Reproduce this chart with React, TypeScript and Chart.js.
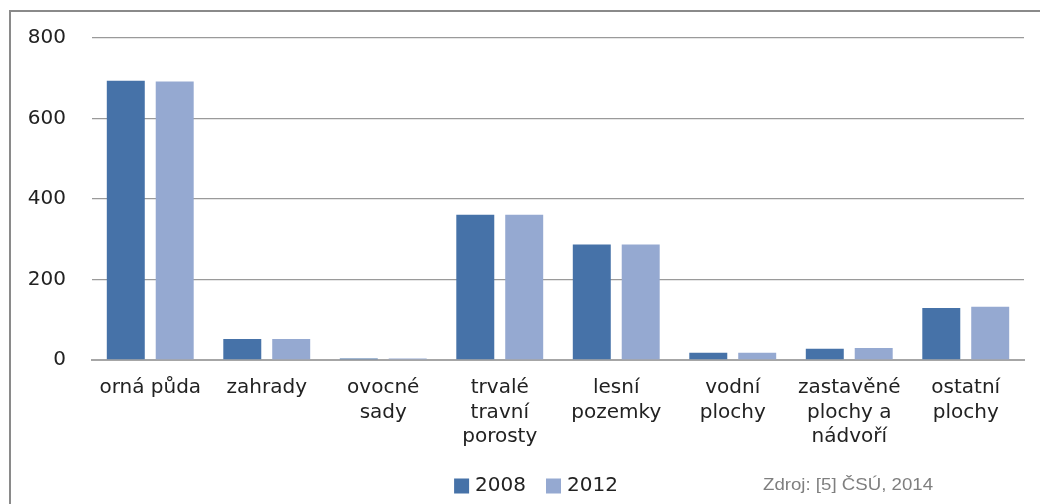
import React, { useEffect, useRef } from "react";
import { Chart, registerables } from "chart.js";

Chart.register(...registerables);

const categories: string[][] = [
  ["orná půda"],
  ["zahrady"],
  ["ovocné", "sady"],
  ["trvalé", "travní", "porosty"],
  ["lesní", "pozemky"],
  ["vodní", "plochy"],
  ["zastavěné", "plochy a", "nádvoří"],
  ["ostatní", "plochy"],
];
const values2008 = [694, 52, 4, 361, 287, 18, 28, 129];
const values2012 = [692, 52, 4, 361, 287, 18, 30, 132];
const seriesLabels = ["2008", "2012"];
const seriesColors = ["#4672a8", "#95a9d1"];
const yTicks = [0, 200, 400, 600, 800];
const sourceText = "Zdroj: [5] ČSÚ, 2014";

const FONT = "'DejaVu Sans', Verdana, sans-serif";

const sourcePlugin = {
  id: "sourceText",
  afterDraw(chart: any) {
    const ctx = chart.ctx as CanvasRenderingContext2D;
    ctx.save();
    ctx.font = "17px 'Liberation Sans Narrow', 'Liberation Sans', sans-serif";
    ctx.fillStyle = "#7f7f7f";
    ctx.textBaseline = "middle";
    ctx.textAlign = "left";
    const w = ctx.measureText(sourceText).width;
    const target = 170;
    ctx.translate(763, 485);
    ctx.scale(target / w, 1);
    ctx.fillText(sourceText, 0, 0);
    ctx.restore();
  },
};

const legendPlugin = {
  id: "customLegend",
  afterDraw(chart: any) {
    const ctx = chart.ctx as CanvasRenderingContext2D;
    ctx.save();
    ctx.font = `20px ${FONT}`;
    ctx.textBaseline = "middle";
    ctx.textAlign = "left";
    const box = 15;
    const gapText = 6;
    const gapItem = 20;
    const items = chart.data.datasets.map((d: any) => ({
      label: d.label,
      color: d.backgroundColor,
      w: ctx.measureText(d.label).width,
    }));
    let total = 0;
    items.forEach((it: any, i: number) => {
      total += box + gapText + it.w + (i < items.length - 1 ? gapItem : 0);
    });
    let x = 536 - total / 2;
    const cy = 486;
    items.forEach((it: any) => {
      ctx.fillStyle = it.color;
      ctx.fillRect(x, cy - box / 2, box, box);
      ctx.fillStyle = "#222";
      ctx.fillText(it.label, x + box + gapText, cy);
      x += box + gapText + it.w + gapItem;
    });
    ctx.restore();
  },
};

export default function App() {
  const ref = useRef<HTMLCanvasElement | null>(null);
  useEffect(() => {
    if (!ref.current) return;
    const chart = new Chart(ref.current, {
      type: "bar",
      data: {
        labels: categories,
        datasets: [
          {
            label: seriesLabels[0],
            data: values2008,
            backgroundColor: seriesColors[0],
            categoryPercentage: 0.84,
            barPercentage: 0.776,
          },
          {
            label: seriesLabels[1],
            data: values2012,
            backgroundColor: seriesColors[1],
            categoryPercentage: 0.84,
            barPercentage: 0.776,
          },
        ],
      },
      options: {
        responsive: false,
        animation: false,
        layout: { autoPadding: false, padding: { top: 34, right: 16, bottom: 0, left: 0 } },
        plugins: {
          tooltip: { enabled: false },
          legend: { display: false },
        },
        scales: {
          x: {
            grid: { display: false, drawTicks: false },
            border: { display: true, color: "#a6a6a6", width: 2 },
            ticks: {
              color: "#222",
              font: { family: FONT, size: 20, lineHeight: 1.225 },
              padding: 16,
              maxRotation: 0,
              autoSkip: false,
            },
            afterFit: (s: any) => {
              s.height = 144;
            },
          },
          y: {
            min: 0,
            max: 800,
            afterBuildTicks: (s: any) => {
              s.ticks = yTicks.map((v) => ({ value: v }));
            },
            grid: { color: "#9a9a9a", lineWidth: 1.3, drawTicks: false },
            border: { display: false },
            ticks: {
              color: "#222",
              font: { family: FONT, size: 20 },
              padding: 26,
            },
            afterFit: (s: any) => {
              s.width = 92;
            },
          },
        },
      },
      plugins: [legendPlugin, sourcePlugin],
    } as any);
    return () => chart.destroy();
  }, []);

  return (
    <div
      style={{
        position: "absolute",
        left: 0,
        top: 0,
        width: 1040,
        height: 504,
        background: "#fff",
        overflow: "hidden",
      }}
    >
      <canvas ref={ref} width={1040} height={504} style={{ display: "block" }} />
      <div
        style={{
          position: "absolute",
          left: 9,
          top: 10,
          width: 1100,
          height: 600,
          borderTop: "2px solid #8a8a8a",
          borderLeft: "2px solid #8a8a8a",
          pointerEvents: "none",
        }}
      />
    </div>
  );
}
